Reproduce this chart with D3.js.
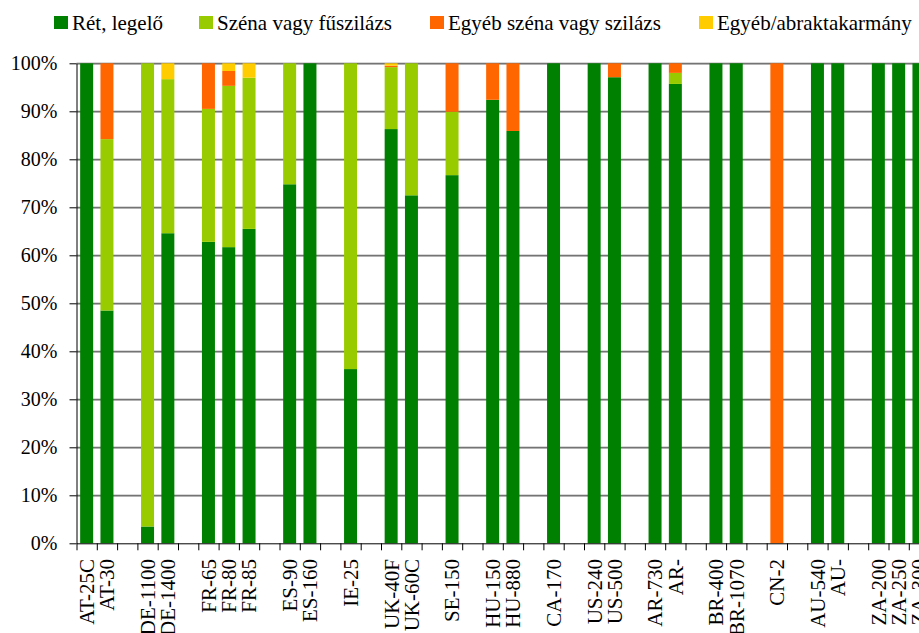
<!DOCTYPE html>
<html>
<head>
<meta charset="utf-8">
<script src="https://cdn.jsdelivr.net/npm/d3@7"></script>
<style>
  body { margin: 0; background: #fff; }
  svg { display: block; }
  svg text { font-family: "Times New Roman", "Liberation Serif", "DejaVu Serif", serif !important; fill: #000; }
</style>
</head>
<body>
<svg id="chart" width="919" height="633"></svg>
<script>
// Slots along the x axis ("" = empty gap slot)
const categories = ["AT-25C","AT-30","","DE-1100","DE-1400","","FR-65","FR-80","FR-85","",
  "ES-90","ES-160","","IE-25","","UK-40F","UK-60C","","SE-150","",
  "HU-150","HU-880","","CA-170","","US-240","US-500","","AR-730","AR-",
  "","BR-400","BR-1070","","CN-2","","AU-540","AU-","","ZA-200",
  "ZA-250","ZA-300"];

const seriesNames = ["Rét, legelő","Széna vagy fűszilázs","Egyéb széna vagy szilázs","Egyéb/abraktakarmány"];
const seriesColors = ["#008000","#99CC00","#FF6600","#FFCC00"];

// Values in %, one per slot
const retLegelo   = [100,48.5,0,3.5,64.6,0,62.8,61.7,65.5,0, 74.8,100,0,36.3,0,86.3,72.5,0,76.7,0, 92.4,85.9,0,100,0,100,97.1,0,100,95.7, 0,100,100,0,0,0,100,100,0,100, 100,100];
const szena       = [0,35.7,0,96.5,32.1,0,27.7,33.6,31.5,0, 25.2,0,0,63.7,0,12.9,27.5,0,13.2,0, 0,0,0,0,0,0,0,0,0,2.3, 0,0,0,0,0,0,0,0,0,0, 0,0];
const egyebSzena  = [0,15.8,0,0,0,0,9.5,3.1,0,0, 0,0,0,0,0,0.3,0,0,10.1,0, 7.6,14.1,0,0,0,0,2.9,0,0,2.0, 0,0,0,0,100,0,0,0,0,0, 0,0];
const egyebAbrak  = [0,0,0,0,3.3,0,0,1.6,3.0,0, 0,0,0,0,0,0.5,0,0,0,0, 0,0,0,0,0,0,0,0,0,0, 0,0,0,0,0,0,0,0,0,0, 0,0];

const yTicks = [0,10,20,30,40,50,60,70,80,90,100];

const FONT = "'Times New Roman', 'Liberation Serif', 'DejaVu Serif', serif";
const svg = d3.select("#chart");
const x0 = 76.5, step = 20.3, y0 = 543.3, y100 = 63.3;

const xLin = d3.scaleLinear().domain([0, categories.length]).range([x0, x0 + step * categories.length]);
const xBand = d3.scaleBand().domain(d3.range(categories.length))
  .range([x0, x0 + step * categories.length]).paddingInner(0.36).paddingOuter(0.18);
const y = d3.scaleLinear().domain([0, 100]).range([y0, y100]);

// gridlines
const grid = svg.append("g");
yTicks.filter(d => d > 0).forEach(t => {
  grid.append("line").attr("x1", x0).attr("x2", 919).attr("y1", y(t)).attr("y2", y(t))
    .attr("stroke", "#444").attr("stroke-width", 1);
  grid.append("line").attr("x1", x0).attr("x2", 919).attr("y1", y(t) + 1).attr("y2", y(t) + 1)
    .attr("stroke", "#a0a0a0").attr("stroke-width", 1);
});

// stack data
const keys = ["a","b","c","d"];
const rows = categories.map((c, i) => ({i, a: retLegelo[i], b: szena[i], c: egyebSzena[i], d: egyebAbrak[i]}));
const stacked = d3.stack().keys(keys)(rows);

svg.append("g").selectAll("g").data(stacked).join("g")
  .attr("fill", (d, i) => seriesColors[i])
  .selectAll("rect").data(d => d.filter(p => p[1] - p[0] > 0)).join("rect")
  .attr("x", p => xBand(p.data.i))
  .attr("width", xBand.bandwidth())
  .attr("y", p => y(p[1]))
  .attr("height", p => y(p[0]) - y(p[1]));

// y axis
const yAxis = svg.append("g").attr("transform", `translate(${x0},0)`)
  .call(d3.axisLeft(y).tickValues(yTicks).tickFormat(d => d + "%").tickSize(7).tickSizeOuter(0).tickPadding(12));
yAxis.attr("font-family", FONT).attr("font-size", 20);
yAxis.select(".domain").attr("stroke", "#000");
yAxis.selectAll("text").attr("font-size", 20).attr("font-family", FONT).attr("fill", "#000");
yAxis.selectAll("line").attr("stroke", "#000");

// x axis (ticks at slot boundaries)
const xAxis = svg.append("g").attr("transform", `translate(0,${y0})`)
  .call(d3.axisBottom(xLin).tickValues(d3.range(0, categories.length + 1)).tickFormat("").tickSize(7).tickSizeOuter(0));
xAxis.select(".domain").attr("stroke", "#000");
xAxis.selectAll("line").attr("stroke", "#000");

// x labels
svg.append("g").attr("font-family", FONT).selectAll("text").data(categories.map((c, i) => ({c, i})).filter(d => d.c !== ""))
  .join("text")
  .attr("transform", d => `translate(${xBand(d.i) + xBand.bandwidth() / 2},559) rotate(-90)`)
  .attr("text-anchor", "end")
  .attr("dy", "0.35em")
  .attr("font-size", 21)
  .attr("font-family", FONT)
  .text(d => d.c);

// legend
const legendX = [54, 199, 430, 699];
const legend = svg.append("g").attr("font-family", FONT);
seriesNames.forEach((n, i) => {
  legend.append("rect").attr("x", legendX[i]).attr("y", 16).attr("width", 14).attr("height", 13).attr("fill", seriesColors[i]);
  legend.append("text").attr("x", legendX[i] + 18).attr("y", 29.5).attr("font-size", 21).attr("font-family", FONT).text(n);
});
</script>
</body>
</html>
